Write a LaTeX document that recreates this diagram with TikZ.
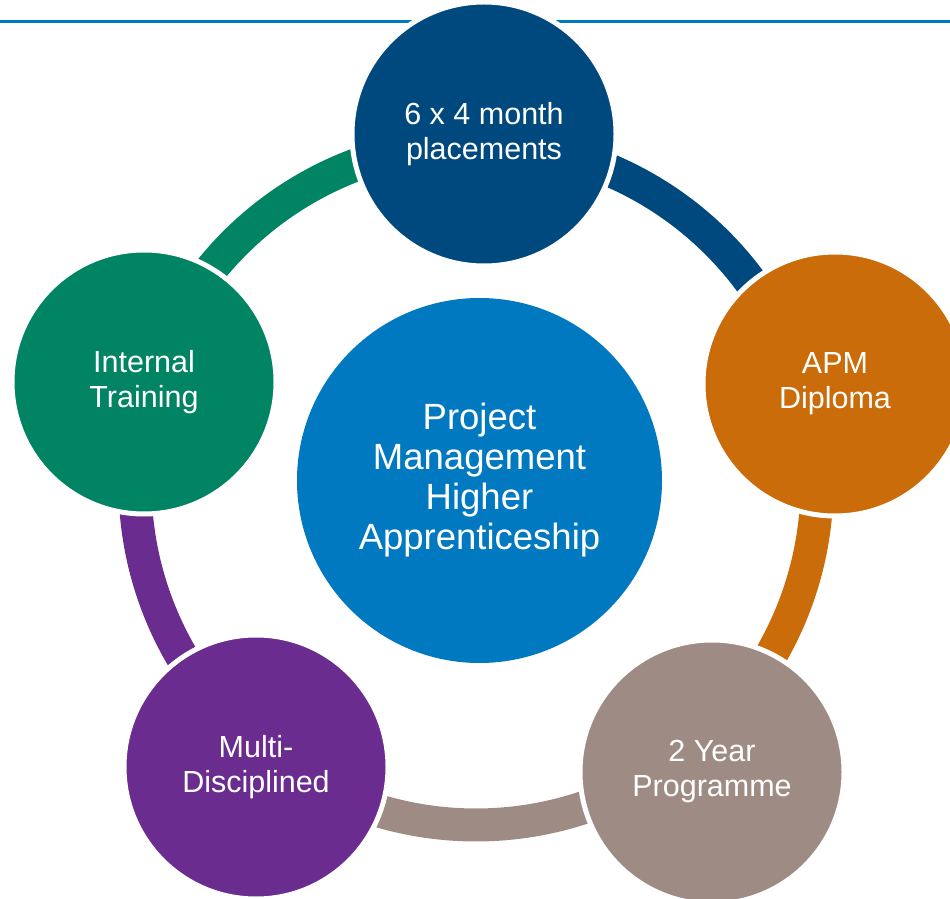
\documentclass[tikz,border=0pt]{standalone}
\usepackage{fontspec}
\setmainfont{Liberation Sans}
\usepackage{xcolor}
\usepackage{tikz}

\definecolor{hubblue}{HTML}{0079C1}
\definecolor{topblue}{HTML}{00497F}
\definecolor{apmorange}{HTML}{C96C09}
\definecolor{yeargray}{HTML}{9E8C84}
\definecolor{multipurple}{HTML}{6A2C8F}
\definecolor{traingreen}{HTML}{008463}

\tikzset{
	sat/.style={circle, draw=white, line width=5pt, minimum size=264pt, inner sep=0pt,
		text=white, align=center, font=\fontsize{30.5}{35}\selectfont},
	ring/.style={line width=33pt}
}

\begin{document}
\begin{tikzpicture}[x=1pt, y=1pt]
	\useasboundingbox (0,0) rectangle (950,898);
	%\draw (0,0) rectangle (950,898);
	\draw[hubblue, line width=3pt] (0,876) -- (950,876);

	\node[circle, fill=hubblue, minimum size=365pt, inner sep=0pt, text=white, align=center,
		font=\fontsize{36.5}{40}\selectfont] (hub) at (479.5,417.5)
		{Project\\Management\\Higher\\Apprenticeship};
	\coordinate (ringc) at (476,414);

	% ring pieces, clockwise from the top
	\foreach \from/\to/\col in {88.7/15.6/topblue, 15.6/-50.7/apmorange, -50.7/-127.9/yeargray,
		-127.9/-197.1/multipurple, 162.9/88.7/traingreen}
		\draw[ring, \col] (ringc) ++(\from:341) arc[start angle=\from, end angle=\to, radius=341];

	\node[sat, fill=topblue] (place) at (484,764) {6 x 4 month\\placements};
	\node[sat, fill=apmorange] (apm) at (835,514) {APM\\Diploma};
	\node[sat, fill=yeargray] (years) at (712,126) {2 Year\\Programme};
	\node[sat, fill=multipurple] (multi) at (256,131) {Multi-\\Disciplined};
	\node[sat, fill=traingreen] (train) at (144,516) {Internal\\Training};
\end{tikzpicture}
\end{document}
